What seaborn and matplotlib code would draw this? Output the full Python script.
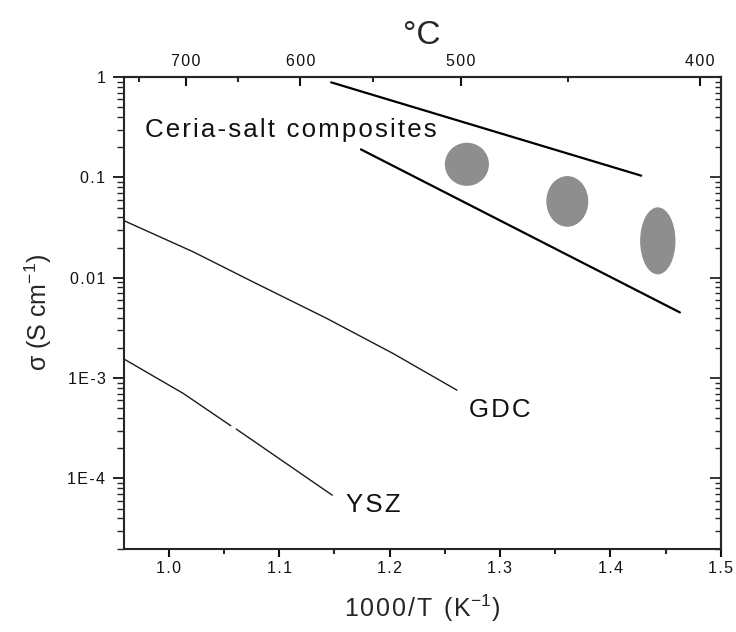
import numpy as np
import pandas as pd
import matplotlib
matplotlib.use("Agg")
import matplotlib.pyplot as plt
import seaborn as sns
from matplotlib.patches import Ellipse
from matplotlib.ticker import FixedLocator, FixedFormatter, NullFormatter, LogLocator

sns.set_theme(style="ticks")
plt.rcParams['font.family'] = ['Liberation Sans', 'DejaVu Sans']
plt.rcParams['mathtext.fontset'] = 'custom'
plt.rcParams['mathtext.rm'] = 'Liberation Sans'
plt.rcParams['mathtext.it'] = 'Liberation Sans:italic'
plt.rcParams['axes.linewidth'] = 1.5

# ---------------- data ----------------
gdc_x = [0.960, 1.022, 1.076, 1.143, 1.203, 1.261]
gdc_y = [0.0367, 0.0181, 0.0091, 0.00393, 0.00176, 0.000757]

ysz_x = [0.960, 1.013, 1.056, 1.061, 1.148]
ysz_y = [0.00153, 0.000702, 0.000335, 0.000310, 6.8e-5]
ysz_seg = [0, 0, 0, 1, 1]

ceria_upper_x = [1.147, 1.428]
ceria_upper_y = [0.885, 0.104]
ceria_lower_x = [1.174, 1.463]
ceria_lower_y = [0.190, 0.00451]

blob_x = [1.270, 1.361, 1.443]          # 1000/T centres
blob_y = [0.135, 0.0576, 0.0233]        # sigma centres
blob_w = [0.040, 0.038, 0.032]          # extent in 1000/T
blob_h = [0.43, 0.505, 0.668]           # extent in decades of sigma

x_ticks = [1.0, 1.1, 1.2, 1.3, 1.4, 1.5]
x_ticklabels = ["1.0", "1.1", "1.2", "1.3", "1.4", "1.5"]
x_minor = [1.05, 1.15, 1.25, 1.35, 1.45]

y_ticks = [1, 0.1, 0.01, 1e-3, 1e-4]
y_ticklabels = ["1", "0.1", "0.01", "1E-3", "1E-4"]

top_ticks = [1.0154, 1.1190, 1.2644, 1.4813]
top_ticklabels = ["700", "600", "500", "400"]
top_minor = [0.9731, 1.0628, 1.1852, 1.3614]

series_labels = ["Ceria-salt composites", "GDC", "YSZ"]


def track(s):
    return "\u200a".join(s)


# ---------------- figure ----------------
fig = plt.figure(figsize=(7.36, 6.32), dpi=100)
ax = fig.add_axes([0.1678, 0.1321, 0.8114, 0.7460])
ax.set_yscale('log')
ax.set_xlim(0.9588, 1.5)
ax.set_ylim(2e-5, 1)

thin = '#1a1a1a'
sns.lineplot(x=gdc_x, y=gdc_y, color=thin, linewidth=1.0, estimator=None,
             sort=False, ax=ax)
df_ysz = pd.DataFrame({'x': ysz_x, 'y': ysz_y, 'seg': ysz_seg})
sns.lineplot(data=df_ysz, x='x', y='y', units='seg', color=thin, linewidth=1.0,
             estimator=None, sort=False, ax=ax)
sns.lineplot(x=ceria_upper_x, y=ceria_upper_y, color='black', linewidth=1.6,
             estimator=None, sort=False, ax=ax)
sns.lineplot(x=ceria_lower_x, y=ceria_lower_y, color='black', linewidth=1.6,
             estimator=None, sort=False, ax=ax)

# ellipses drawn in (x, log10 sigma) space through the axes' own transforms
ell_tr = ax.transLimits + ax.transAxes
for bx, by, bw, bh in zip(blob_x, blob_y, blob_w, blob_h):
    ax.add_patch(Ellipse((bx, np.log10(by)), bw, bh, transform=ell_tr,
                         facecolor='#8e8e8e', edgecolor='none', zorder=3))

# annotations
txt_kw = dict(fontsize=18.6, color='#111111')
ax.text(0.036, 0.8734, track(series_labels[0]), transform=ax.transAxes,
        ha='left', va='baseline', **txt_kw)
ax.annotate(track(series_labels[1]), xy=(gdc_x[-1], gdc_y[-1]), xytext=(9, -19),
            textcoords='offset points', ha='left', va='baseline', **txt_kw)
ax.annotate(track(series_labels[2]), xy=(ysz_x[-1], ysz_y[-1]), xytext=(10, -12),
            textcoords='offset points', ha='left', va='baseline', **txt_kw)

# bottom axis
ax.xaxis.set_major_locator(FixedLocator(x_ticks))
ax.xaxis.set_major_formatter(FixedFormatter([track(s) for s in x_ticklabels]))
ax.xaxis.set_minor_locator(FixedLocator(x_minor))
ax.tick_params(axis='x', which='major', direction='out', length=6, width=1.5,
               top=False, labelsize=11.5, pad=3, colors='#111111')
ax.tick_params(axis='x', which='minor', direction='out', length=3.6, width=1.5,
               top=False)

# left axis
ax.yaxis.set_major_locator(FixedLocator(y_ticks))
ax.yaxis.set_major_formatter(FixedFormatter([track(s) for s in y_ticklabels]))
ax.yaxis.set_minor_locator(LogLocator(base=10, subs=np.arange(2, 10)))
ax.yaxis.set_minor_formatter(NullFormatter())
ax.tick_params(axis='y', which='major', direction='out', length=8, width=1.3,
               right=False, labelsize=11.5, pad=5, colors='#111111')
ax.tick_params(axis='y', which='minor', direction='out', length=5, width=1.0,
               right=False)

# right axis (ticks inward, no labels)
secy = ax.secondary_yaxis('right')
secy.yaxis.set_major_locator(FixedLocator(y_ticks))
secy.yaxis.set_minor_locator(LogLocator(base=10, subs=np.arange(2, 10)))
secy.yaxis.set_major_formatter(NullFormatter())
secy.yaxis.set_minor_formatter(NullFormatter())
secy.tick_params(which='major', direction='in', length=8, width=1.3)
secy.tick_params(which='minor', direction='in', length=4, width=1.0)

# top axis in degrees C
secx = ax.secondary_xaxis('top')
secx.xaxis.set_major_locator(FixedLocator(top_ticks))
secx.xaxis.set_major_formatter(FixedFormatter([track(s) for s in top_ticklabels]))
secx.xaxis.set_minor_locator(FixedLocator(top_minor))
secx.tick_params(which='major', direction='in', length=6.7, width=1.5,
                 labelsize=11.5, pad=6, colors='#111111')
secx.tick_params(which='minor', direction='in', length=3.6, width=1.5)
secx.set_xlabel('°C', fontsize=24, labelpad=7)

ax.set_xlabel(track("1000/T (K") + "$^{-1}$)", fontsize=18, labelpad=12)
ax.set_ylabel("σ (S cm$^{-1}$)", fontsize=18, labelpad=10)

fig.savefig("out.png", dpi=100, facecolor='white')
